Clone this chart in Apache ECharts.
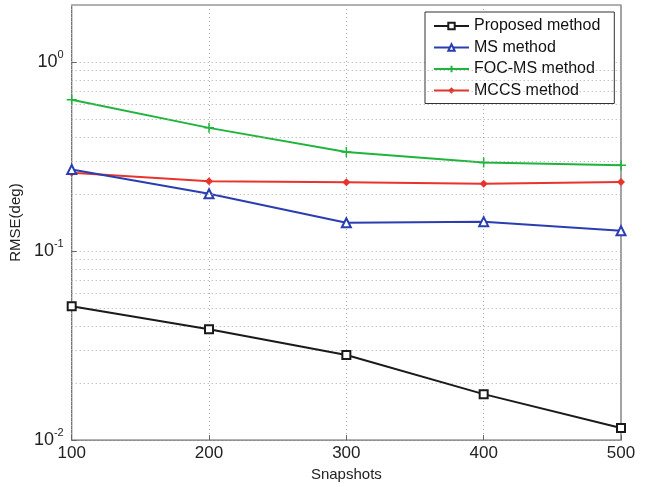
<!DOCTYPE html>
<html>
<head>
<meta charset="utf-8">
<script src="https://cdn.jsdelivr.net/npm/echarts@6/dist/echarts.min.js"></script>
<style>
  html, body { margin: 0; padding: 0; background: #fff; }
  #main { width: 647px; height: 487px; }
</style>
</head>
<body>
<div id="main"></div>
<script>
// snapshots on the x axis
const snapshots = [100, 200, 300, 400, 500];

// RMSE values
const proposed = [0.051, 0.0386, 0.0282, 0.0175, 0.0116];
const msMethod = [0.270, 0.201, 0.141, 0.143, 0.128];
const focMs = [0.631, 0.448, 0.334, 0.294, 0.284];
const mccs = [0.259, 0.234, 0.231, 0.227, 0.232];

const xTicks = [100, 200, 300, 400, 500];
// dotted minor grid at 2..9 in each decade
const minorGrid = [0.02, 0.03, 0.04, 0.05, 0.06, 0.07, 0.08, 0.09,
                   0.2, 0.3, 0.4, 0.5, 0.6, 0.7, 0.8, 0.9];

const font = 'Liberation Sans, Arial, sans-serif';

function pairs(vals) {
    return snapshots.map((s, i) => [s, vals[i]]);
}

const myChart = echarts.init(document.getElementById('main'));

const option = {
    backgroundColor: '#fff',
    animation: false,
    textStyle: { fontFamily: font },
    grid: {
        left: 68, right: 26, top: 5, bottom: 46,
        show: true,
        borderColor: '#666',
        borderWidth: 1.2
    },
    legend: {
        left: 425,
        top: 12,
        orient: 'vertical',
        backgroundColor: '#fff',
        borderColor: '#333',
        borderWidth: 1,
        padding: [6, 14, 5, 8],
        itemWidth: 35,
        itemHeight: 8,
        itemGap: 5.5,
        textStyle: { fontSize: 16, lineHeight: 16, color: '#111', fontFamily: font },
        data: ['Proposed method', 'MS method', 'FOC-MS method', 'MCCS method']
    },
    xAxis: {
        type: 'value',
        min: 100,
        max: 500,
        interval: 100,
        name: 'Snapshots',
        nameLocation: 'middle',
        nameGap: 21,
        nameTextStyle: { fontSize: 15, color: '#222' },
        axisLine: { show: false },
        axisTick: { inside: true, length: 5, lineStyle: { color: '#666' } },
        axisLabel: {
            fontSize: 17, color: '#222', margin: 5,
            formatter: v => xTicks.includes(v) ? String(v) : ''
        },
        splitLine: { show: true, lineStyle: { color: '#aaa', type: [1, 3], width: 1 } }
    },
    yAxis: {
        type: 'log',
        logBase: 10,
        min: 0.01,
        max: 2,
        name: 'RMSE(deg)',
        nameLocation: 'middle',
        nameGap: 43,
        nameTextStyle: { fontSize: 15, color: '#222' },
        axisLine: { show: false },
        axisTick: { inside: true, length: 5, lineStyle: { color: '#666' } },
        axisLabel: {
            color: '#222',
            margin: 8,
            showMaxLabel: false,
            formatter: function (v) {
                const e = Math.round(Math.log10(v));
                return '{b|10}{s|' + e + '}';
            },
            rich: {
                b: { fontSize: 18, color: '#222', fontFamily: font },
                s: { fontSize: 11, color: '#222', fontFamily: font, verticalAlign: 'bottom', padding: [0, 0, 14, 0] }
            }
        },
        splitLine: { show: true, lineStyle: { color: '#aaa', type: [1, 3], width: 1 } }
    },
    series: [
        {
            name: 'Proposed method',
            type: 'line',
            data: pairs(proposed),
            symbol: 'emptyRect',
            symbolSize: 8,
            lineStyle: { color: '#1a1a1a', width: 2 },
            itemStyle: { color: '#1a1a1a', borderWidth: 1.5 },
            z: 5,
            markLine: {
                silent: true,
                symbol: 'none',
                label: { show: false },
                lineStyle: { color: '#aaa', type: [1, 3], width: 1 },
                data: minorGrid.map(v => ({ yAxis: v }))
            }
        },
        {
            name: 'MS method',
            type: 'line',
            data: pairs(msMethod),
            symbol: 'emptyTriangle',
            symbolSize: 9,
            lineStyle: { color: '#2a3eb1', width: 2 },
            itemStyle: { color: '#2a3eb1', borderWidth: 1.5 },
            z: 4
        },
        {
            name: 'FOC-MS method',
            type: 'line',
            data: pairs(focMs),
            symbol: 'path://M0,-5L0,5M-5,0L5,0',
            symbolSize: 10,
            symbolKeepAspect: true,
            lineStyle: { color: '#1fb43c', width: 2 },
            itemStyle: { color: '#1fb43c', borderColor: '#1fb43c', borderWidth: 1.5 },
            z: 3
        },
        {
            name: 'MCCS method',
            type: 'line',
            data: pairs(mccs),
            symbol: 'diamond',
            symbolSize: 8,
            lineStyle: { color: '#e8342c', width: 2 },
            itemStyle: { color: '#e8342c' },
            z: 3
        }
    ]
};

myChart.setOption(option);
</script>
</body>
</html>
